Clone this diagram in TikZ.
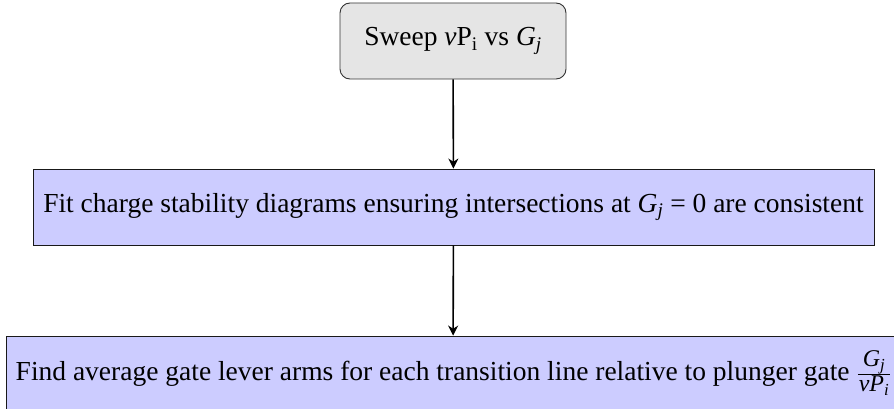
\documentclass[tikz,border=0pt]{standalone}
\usepackage{fontspec}
\setmainfont{Liberation Serif}
\usetikzlibrary{arrows.meta}
% italic symbols set in the text face
\newcommand{\vi}[1]{\textit{#1}}
% stacked ratio, centred on the math axis
\newcommand{\ratio}[2]{$\vcenter{\hbox{\fontsize{24}{26}\selectfont
  \renewcommand{\arraystretch}{0.95}\setlength{\tabcolsep}{1pt}%
  \begin{tabular}{c}#1\\\hline #2\end{tabular}}}$}
\begin{document}
\begin{tikzpicture}[x=1pt,y=-1pt,
  every node/.style={font=\fontsize{27.5}{32}\selectfont, inner sep=0pt},
  startbox/.style={draw=black!80, line width=0.9pt, fill=gray!20,
    rounded corners=10pt, minimum width=226pt, minimum height=76pt},
  procbox/.style={draw=black!90, line width=0.9pt, fill=blue!20,
    minimum height=76pt},
  flow/.style={line width=1.6pt, -{Stealth[length=10pt,width=10pt]}}]
\useasboundingbox (0,0) rectangle (894,409);
\node[startbox] (sweep) at (453,41)
  {Sweep \vi{ν}P\textsubscript{i} vs \vi{G}\textsubscript{\vi{j}}};
\node[procbox, minimum width=841pt] (fit) at (453.5,207)
  {Fit charge stability diagrams ensuring intersections at \vi{G}\textsubscript{\vi{j}} = 0 are consistent};
\node[procbox, minimum width=894pt] (lever) at (453,374)
  {Find average gate lever arms for each transition line relative to plunger gate\hspace{0.3em}\ratio{\vi{G}\textsubscript{\vi{j}}}{\vi{νP}\textsubscript{\vi{i}}}};
\draw[flow] (sweep) -- (fit);
\draw[flow] (fit) -- (lever);
\end{tikzpicture}
\end{document}
